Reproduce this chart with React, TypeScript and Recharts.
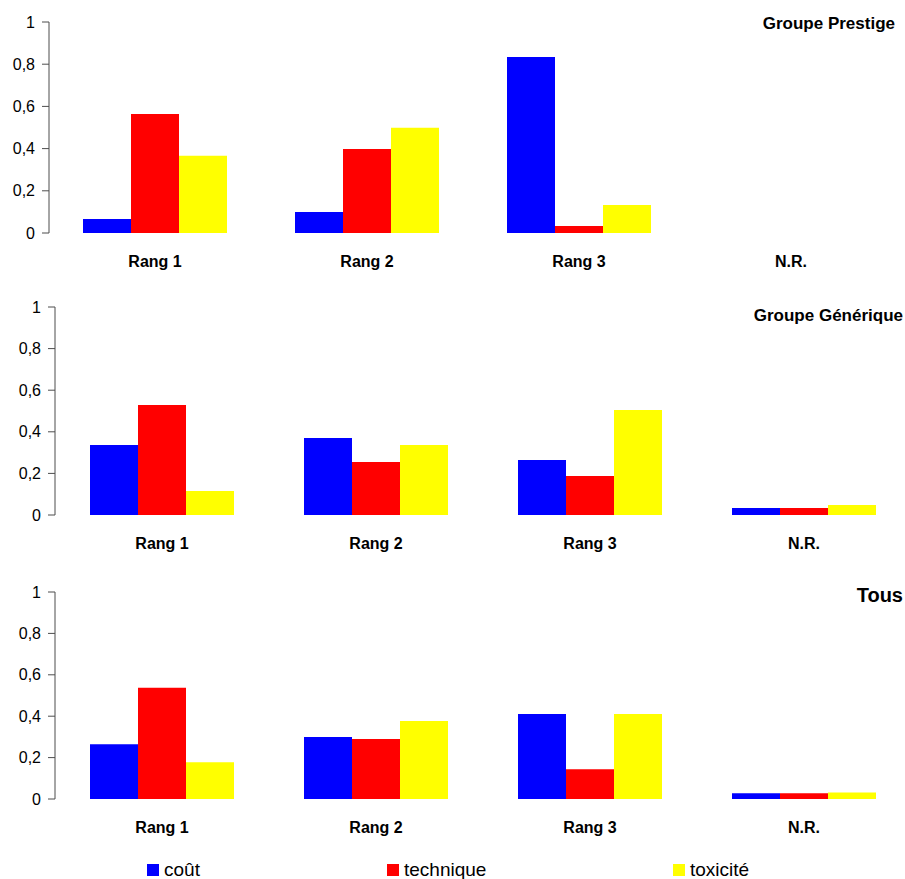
import { BarChart, Bar, XAxis, YAxis } from 'recharts';

// categories and values
const categories = ['Rang 1', 'Rang 2', 'Rang 3', 'N.R.'];
const yTicks = [0, 0.2, 0.4, 0.6, 0.8, 1];

const prestigeCout = [0.066, 0.1, 0.834, 0];
const prestigeTechnique = [0.564, 0.398, 0.033, 0];
const prestigeToxicite = [0.366, 0.499, 0.133, 0];

const generiqueCout = [0.337, 0.37, 0.264, 0.034];
const generiqueTechnique = [0.529, 0.255, 0.1875, 0.034];
const generiqueToxicite = [0.115, 0.337, 0.505, 0.048];

const tousCout = [0.265, 0.3, 0.411, 0.028];
const tousTechnique = [0.537, 0.29, 0.144, 0.028];
const tousToxicite = [0.178, 0.377, 0.411, 0.032];

const legendItems = [
    { label: 'coût', color: '#0000ff', x: 147 },
    { label: 'technique', color: '#ff0000', x: 387 },
    { label: 'toxicité', color: '#ffff00', x: 673 },
];

const FONT = '"Liberation Sans", Arial, sans-serif';

function buildRows(cout: number[], technique: number[], toxicite: number[]) {
    return categories.map((name, i) => ({
        name,
        cout: cout[i],
        technique: technique[i],
        toxicite: toxicite[i],
    }));
}

const fmt = (v: number) => String(v).replace('.', ',');

interface PanelProps {
    rows: ReturnType<typeof buildRows>;
    top: number; // plot top
    bottom: number; // plot bottom
    axisX: number;
    width: number;
}

function Panel({ rows, top, bottom, axisX, width }: PanelProps) {
    const marginTop = 22;
    const height = bottom - top + marginTop + 47;
    return (
        <div style={{ position: 'absolute', left: 0, top: top - marginTop }}>
            <BarChart
                width={width}
                height={height}
                data={rows}
                margin={{ top: marginTop, right: 8, left: 0, bottom: 17 }}
                barGap={0}
            >
                <XAxis
                    dataKey="name"
                    height={30}
                    axisLine={false}
                    tickLine={false}
                    tickSize={6}
                    tickMargin={17}
                    interval={0}
                    tick={{ fontSize: 16, fontWeight: 'bold', fill: '#000', fontFamily: FONT }}
                />
                <YAxis
                    width={axisX}
                    domain={[0, 1]}
                    ticks={yTicks}
                    tickFormatter={fmt}
                    stroke="#4d4d4d"
                    tickSize={7}
                    tickMargin={7}
                    tick={{ fontSize: 16, fill: '#000', fontFamily: FONT }}
                />
                <Bar dataKey="cout" fill="#0000ff" barSize={48} isAnimationActive={false} />
                <Bar dataKey="technique" fill="#ff0000" barSize={48} isAnimationActive={false} />
                <Bar dataKey="toxicite" fill="#ffff00" barSize={48} isAnimationActive={false} />
            </BarChart>
        </div>
    );
}

function Title({ text, right, centerY, size }: { text: string; right: number; centerY: number; size: number }) {
    return (
        <div
            style={{
                position: 'absolute',
                right: 905 - right,
                top: centerY - size * 0.49,
                fontSize: size,
                lineHeight: `${size}px`,
                fontWeight: 'bold',
                fontFamily: FONT,
                whiteSpace: 'nowrap',
            }}
        >
            {text}
        </div>
    );
}

export default function App() {
    return (
        <div
            style={{
                position: 'absolute',
                left: 0,
                top: 0,
                width: 905,
                height: 879,
                overflow: 'hidden',
                background: '#fff',
                fontFamily: FONT,
            }}
        >
            <Panel rows={buildRows(prestigeCout, prestigeTechnique, prestigeToxicite)} top={22} bottom={233} axisX={49} width={905} />
            <Panel rows={buildRows(generiqueCout, generiqueTechnique, generiqueToxicite)} top={307} bottom={515} axisX={55} width={919} />
            <Panel rows={buildRows(tousCout, tousTechnique, tousToxicite)} top={592} bottom={799} axisX={55} width={919} />

            <Title text="Groupe Prestige" right={895} centerY={23} size={17} />
            <Title text="Groupe Générique" right={903} centerY={315} size={17} />
            <Title text="Tous" right={903} centerY={595} size={20} />

            {legendItems.map((item) => (
                <div key={item.label}>
                    <div
                        style={{
                            position: 'absolute',
                            left: item.x,
                            top: 864,
                            width: 12,
                            height: 12,
                            background: item.color,
                        }}
                    />
                    <div
                        style={{
                            position: 'absolute',
                            left: item.x + 17,
                            top: 860,
                            fontSize: 19,
                            lineHeight: '19px',
                            whiteSpace: 'nowrap',
                        }}
                    >
                        {item.label}
                    </div>
                </div>
            ))}
        </div>
    );
}
